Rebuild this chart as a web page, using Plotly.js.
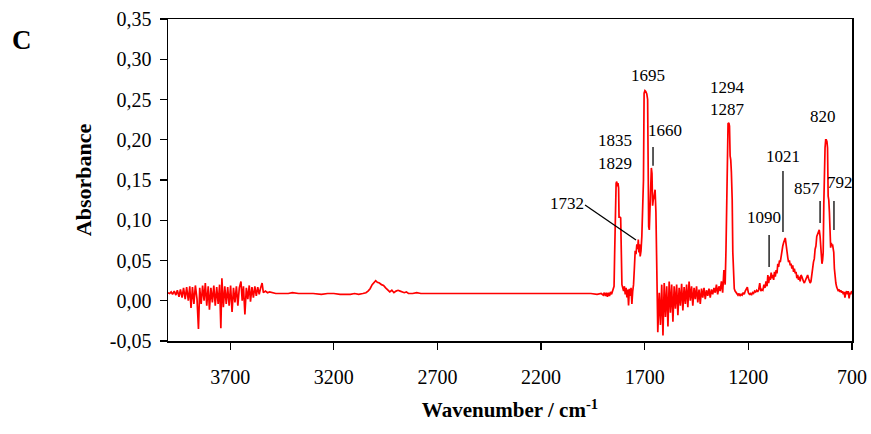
<!DOCTYPE html>
<html>
<head>
<meta charset="utf-8">
<script src="https://cdn.plot.ly/plotly-3.0.1.min.js"></script>
<style>html,body{margin:0;padding:0;background:#fff;} #chart{width:871px;height:434px;}</style>
</head>
<body>
<div id="chart"></div>
<script>
// ---- Data ----
const wavenumber = [
4000,3992,3985,3978,3970,3962,3955,3947,3940,3932,3925,3917,3910,3902,3895,3889,3882,3875,3868,3860,
3853,3847,3840,3833,3826,3820,3813,3806,3800,3793,3786,3779,3772,3765,3758,3751,3745,3740,3733,3726,
3719,3712,3705,3698,3691,3684,3677,3670,3663,3656,3648,3642,3636,3629,3622,3615,3608,3602,3595,3588,
3581,3574,3567,3560,3553,3546,3540,3530,3520,3510,
3480,3450,3420,3400,3370,3340,3300,3260,3230,3200,3170,3140,3120,3100,3080,3060,3045,3035,3025,3015,
3005,2998,2990,2980,2970,2960,2950,2940,2930,2920,2910,2900,2890,2880,2870,2860,2850,2840,2820,2800,
2780,2750,2700,2650,2600,2550,2500,2450,2400,2350,2300,2250,2200,2150,2100,2050,2000,1960,1930,1910,
1900,1895,1890,1885,1880,1875,1870,1865,1860,1856,1852,1848,1845,1842,1838,1835,1832,1829,1826,1824,
1820,1816,1814,1810,1806,1802,1798,1794,1790,1786,1782,1778,1774,1770,1766,1762,1758,1754,1750,1746,
1742,1738,1734,1731,1728,1725,1722,1718,1714,1710,1706,1703,1699,1695,1690,1686,1684,1681,1678,1675,
1671,1668,1665,1662,1659,1656,1653,1650,1646,1643,1640,1637,
1630,1624,1618,1612,1606,1600,1594,1588,1582,1576,1570,1564,1558,1552,1546,1540,1534,1528,1522,1516,
1510,1504,1498,1492,1486,1480,1474,1468,1462,1456,1450,1444,1438,1432,1426,1420,1414,1408,1402,1396,
1390,1384,1378,1372,1366,1360,1354,1348,1342,1336,1330,1324,1318,1312,1308,1304,1301,1298,1294,1291,
1288,1285,1282,1278,1275,1272,1268,1264,1260,1255,1250,1245,1240,1235,1230,1225,1220,1215,1210,1205,
1200,1195,1190,1185,1180,1175,1170,1165,1160,1155,1150,1145,1140,1135,1130,1125,1120,1115,1110,1106,
1102,1098,1094,1090,1086,1082,1078,1074,1070,1066,1062,1058,1054,1050,1046,1042,1038,1034,1030,1026,
1022,1018,1014,1010,1006,1002,998,994,990,986,982,978,974,970,966,962,958,954,950,946,
942,938,934,930,926,922,918,914,910,906,902,898,894,890,886,882,878,874,870,866,
862,858,854,851,848,845,842,839,836,833,830,827,824,821,818,815,812,809,806,803,
800,797,794,791,788,785,782,778,774,770,766,762,758,754,750,746,742,738,734,730,
726,722,718,714,710,706,702,700
];
const absorbance = [
0.010,0.009,0.011,0.008,0.012,0.007,0.013,0.005,0.014,0.004,0.016,0.002,0.017,0.000,0.018,-0.009,0.017,-0.004,0.019,0.002,
-0.035,0.016,-0.004,0.019,0.000,0.022,-0.006,0.018,-0.011,0.016,-0.002,0.019,-0.006,0.017,-0.004,0.020,-0.034,0.028,-0.008,0.018,
-0.004,0.017,-0.006,0.019,-0.014,0.016,-0.002,0.018,-0.006,0.016,0.024,0.000,0.018,-0.017,0.016,0.002,0.019,-0.001,0.017,0.004,
0.018,0.006,0.017,0.008,0.016,0.022,0.010,0.012,0.010,0.011,
0.009,0.009,0.009,0.010,0.009,0.009,0.009,0.008,0.009,0.009,0.008,0.008,0.008,0.009,0.008,0.009,0.010,0.012,0.015,0.020,
0.023,0.025,0.023,0.022,0.020,0.019,0.016,0.014,0.011,0.013,0.010,0.012,0.013,0.012,0.011,0.010,0.011,0.009,0.009,0.010,
0.009,0.009,0.009,0.009,0.009,0.009,0.009,0.009,0.009,0.009,0.009,0.009,0.009,0.009,0.009,0.009,0.009,0.009,0.008,0.009,
0.007,0.010,0.006,0.010,0.005,0.010,0.006,0.011,0.008,0.012,0.016,0.018,0.060,0.130,0.146,0.148,0.142,0.146,0.140,0.104,
0.104,0.103,0.040,0.020,0.016,0.012,0.018,0.008,0.016,0.004,0.014,-0.006,0.015,0.006,0.016,-0.004,0.012,0.020,0.040,0.062,
0.058,0.070,0.064,0.076,0.060,0.070,0.055,0.062,0.080,0.104,0.150,0.258,0.261,0.260,0.257,0.250,0.160,0.092,0.088,0.120,
0.160,0.165,0.158,0.118,0.125,0.128,0.136,0.138,0.110,0.060,0.030,-0.039,
0.010,-0.030,0.020,-0.043,0.022,-0.020,0.018,-0.032,0.024,-0.015,0.020,-0.026,0.018,-0.010,0.020,-0.018,0.016,-0.006,0.021,-0.012,
0.017,-0.004,0.020,-0.008,0.024,0.000,0.018,-0.006,0.016,0.002,0.018,-0.002,0.014,-0.004,0.015,0.004,0.016,0.002,0.013,0.006,
0.015,0.004,0.014,0.008,0.016,0.010,0.020,0.008,0.018,0.012,0.024,0.010,0.038,0.020,0.063,0.150,0.218,0.220,0.221,0.217,
0.180,0.175,0.160,0.125,0.060,0.030,0.015,0.012,0.010,0.009,0.007,0.009,0.006,0.008,0.007,0.010,0.008,0.012,0.016,0.017,
0.010,0.008,0.009,0.007,0.010,0.009,0.012,0.011,0.013,0.011,0.014,0.022,0.012,0.014,0.013,0.020,0.016,0.024,0.018,0.032,
0.022,0.030,0.026,0.035,0.028,0.032,0.026,0.036,0.030,0.038,0.034,0.046,0.042,0.050,0.048,0.056,0.060,0.068,0.072,0.076,
0.078,0.070,0.058,0.054,0.048,0.050,0.044,0.046,0.040,0.044,0.036,0.040,0.034,0.036,0.028,0.032,0.026,0.030,0.024,0.032,
0.030,0.026,0.024,0.022,0.024,0.026,0.030,0.032,0.028,0.024,0.022,0.024,0.030,0.040,0.048,0.052,0.064,0.068,0.080,0.082,
0.086,0.088,0.080,0.070,0.062,0.046,0.050,0.060,0.120,0.170,0.190,0.200,0.200,0.198,0.190,0.130,0.125,0.110,0.072,0.066,
0.072,0.068,0.070,0.064,0.060,0.040,0.030,0.022,0.017,0.015,0.012,0.014,0.011,0.013,0.010,0.012,0.008,0.011,0.004,0.010,
0.012,0.008,0.012,0.003,0.010,0.008,0.012,0.011
];

const xTickValues = [3700, 3200, 2700, 2200, 1700, 1200, 700];
const xTickLabels = ['3700', '3200', '2700', '2200', '1700', '1200', '700'];
const yTickValues = [-0.05, 0, 0.05, 0.10, 0.15, 0.20, 0.25, 0.30, 0.35];
const yTickLabels = ['-0,05', '0,00', '0,05', '0,10', '0,15', '0,20', '0,25', '0,30', '0,35'];

// Peak labels and their positions (wavenumber, absorbance)
const peakLabels = ['1695', '1835', '1829', '1660', '1732', '1294', '1287', '820', '1021', '857', '792', '1090'];
const peakLabelX = [1684, 1843, 1843, 1602, 2075, 1303, 1303, 840, 1033, 917, 758, 1125];
const peakLabelY = [0.280, 0.1985, 0.1711, 0.2109, 0.1214, 0.2655, 0.2370, 0.2283, 0.1786, 0.1400, 0.1475, 0.1040];

// Leader lines [x0, y0, x1, y1]
const leaderLines = [
  [1660, 0.191, 1660, 0.1677],
  [1988, 0.119, 1742, 0.0755],
  [1033, 0.1612, 1033, 0.0854],
  [854, 0.1239, 854, 0.0966],
  [787, 0.1239, 787, 0.0879],
  [1100, 0.0817, 1100, 0.042]
];

const serif = 'Liberation Serif, Times New Roman, serif';

const trace = {
  x: wavenumber, y: absorbance, type: 'scatter', mode: 'lines',
  line: {color: '#ff0000', width: 1.7}, hoverinfo: 'skip'
};

const annotations = peakLabels.map((t, i) => ({
  text: t, x: peakLabelX[i], y: peakLabelY[i], xref: 'x', yref: 'y',
  showarrow: false, font: {family: serif, size: 17, color: '#000'}
}));
annotations.push({
  text: '<b>C</b>', xref: 'paper', yref: 'paper', x: -0.213, y: 0.935,
  xanchor: 'center', yanchor: 'middle', showarrow: false,
  font: {family: serif, size: 27, color: '#000'}
});

const shapes = leaderLines.map(l => ({
  type: 'line', xref: 'x', yref: 'y', x0: l[0], y0: l[1], x1: l[2], y1: l[3],
  line: {color: '#000', width: 1.3}
}));

const layout = {
  width: 871, height: 434,
  margin: {l: 168, r: 19, t: 19, b: 93},
  paper_bgcolor: '#fff', plot_bgcolor: '#fff',
  showlegend: false,
  font: {family: serif, color: '#000'},
  xaxis: {
    range: [4000, 700], autorange: false,
    tickvals: xTickValues, ticktext: xTickLabels,
    ticks: 'outside', ticklen: 7, tickwidth: 1.3, tickcolor: '#000',
    showline: true, linecolor: '#000', linewidth: 1.5, mirror: true,
    showgrid: false, zeroline: false,
    ticklabelstandoff: 10,
    tickfont: {family: serif, size: 20, color: '#000'},
    title: {text: '<b>Wavenumber / cm<sup>-1</sup></b>', font: {family: serif, size: 21, color: '#000'}, standoff: 16}
  },
  yaxis: {
    range: [-0.05, 0.35], autorange: false,
    tickvals: yTickValues, ticktext: yTickLabels,
    ticks: 'outside', ticklen: 7, tickwidth: 1.3, tickcolor: '#000',
    showline: true, linecolor: '#000', linewidth: 1.5, mirror: true,
    showgrid: false, zeroline: false,
    ticklabelstandoff: 4,
    tickfont: {family: serif, size: 20, color: '#000'},
    title: {text: '<b>Absorbance</b>', font: {family: serif, size: 22, color: '#000'}, standoff: 12}
  },
  annotations: annotations,
  shapes: shapes
};

Plotly.newPlot('chart', [trace], layout, {displayModeBar: false, staticPlot: true});
</script>
</body>
</html>
